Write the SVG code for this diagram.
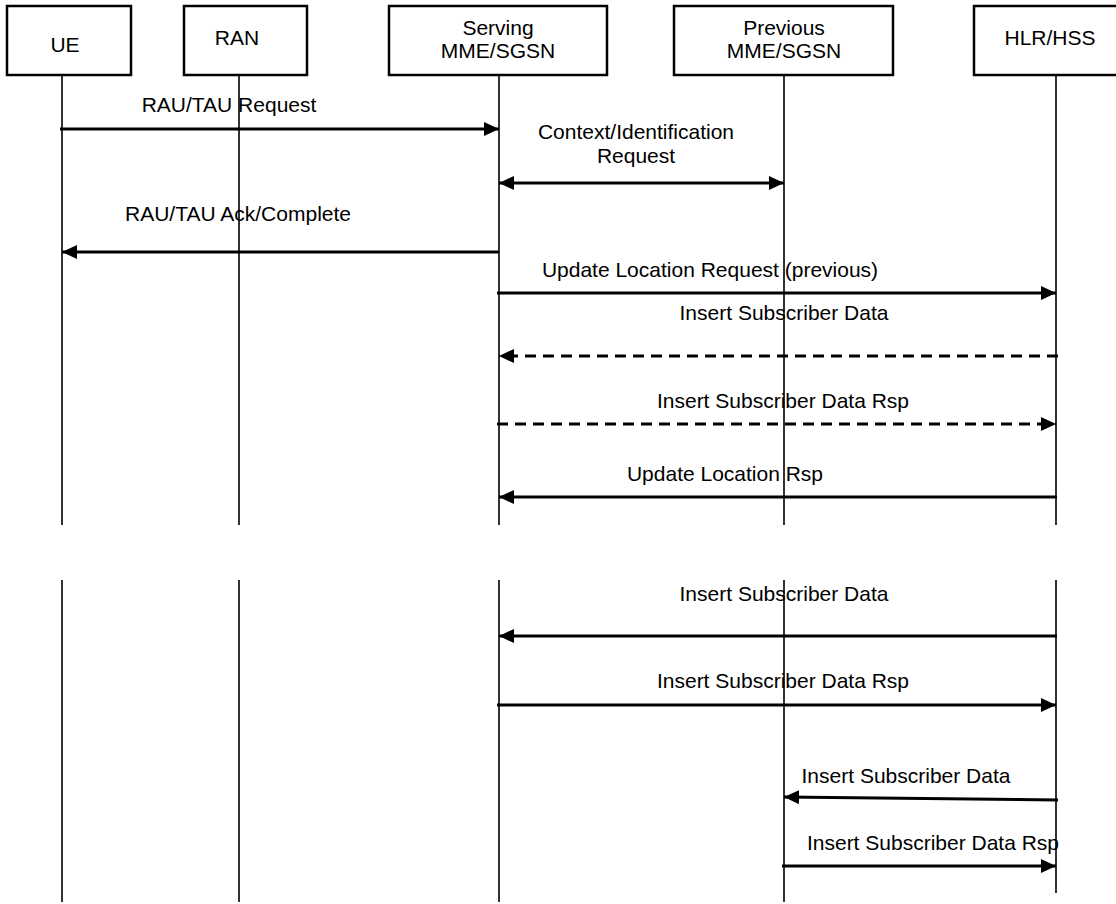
<svg xmlns="http://www.w3.org/2000/svg" width="1116" height="904" viewBox="0 0 1116 904">
<style>
text{font-family:"Liberation Sans",Arial,sans-serif;font-size:21px;fill:#000;text-anchor:middle}
.box{fill:#fff;stroke:#000;stroke-width:2.5}
.life{stroke:#000;stroke-width:1.6;fill:none}
.msg{stroke:#000;stroke-width:3;fill:none;marker-end:url(#ah)}
.dash{stroke-dasharray:11 7}
.both{marker-start:url(#ah)}
</style>
<defs>
<marker id="ah" markerUnits="userSpaceOnUse" markerWidth="16" markerHeight="16" refX="15" refY="7" orient="auto-start-reverse">
<path d="M0,0 L15,7 L0,14 z" fill="#000"/>
</marker>
</defs>
<rect width="1116" height="904" fill="#fff"/>
<g id="lifelines">
<path class="life" d="M62,75V525M62,580V902"/>
<path class="life" d="M239,75V525M239,580V902"/>
<path class="life" d="M499,75V525M499,580V902"/>
<path class="life" d="M784,75V525M784,580V902"/>
<path class="life" d="M1056,75V525M1056,580V893"/>
</g>
<g id="ue"><rect class="box" x="7" y="6" width="124" height="69"/><text x="65" y="52">UE</text></g>
<g id="ran"><rect class="box" x="184" y="6" width="123" height="69"/><text x="237" y="45">RAN</text></g>
<g id="serving"><rect class="box" x="389" y="6" width="218" height="69"/><text x="498" y="35">Serving</text><text x="498" y="58">MME/SGSN</text></g>
<g id="previous"><rect class="box" x="674" y="6" width="219" height="69"/><text x="784" y="35">Previous</text><text x="784" y="58">MME/SGSN</text></g>
<g id="hlr"><rect class="box" x="974" y="6" width="170" height="69"/><text x="1050" y="45">HLR/HSS</text></g>
<g id="connectors">
<line class="msg" x1="60" y1="129" x2="499" y2="129"/>
<line class="msg both" x1="499" y1="183" x2="784" y2="183"/>
<line class="msg" x1="499" y1="252" x2="62" y2="252"/>
<line class="msg" x1="497" y1="293" x2="1056" y2="293"/>
<line class="msg dash" x1="1058" y1="356" x2="499" y2="356"/>
<line class="msg dash" x1="497" y1="424" x2="1056" y2="424"/>
<line class="msg" x1="1057" y1="497" x2="499" y2="497"/>
<line class="msg" x1="1057" y1="636" x2="499" y2="636"/>
<line class="msg" x1="497" y1="705" x2="1056" y2="705"/>
<line class="msg" x1="1058" y1="800" x2="784" y2="797"/>
<line class="msg" x1="782" y1="866" x2="1056" y2="866"/>
</g>
<g id="labels">
<text x="229" y="112">RAU/TAU Request</text>
<text x="636" y="139">Context/Identification</text>
<text x="636" y="163">Request</text>
<text x="238" y="221">RAU/TAU Ack/Complete</text>
<text x="710" y="277">Update Location Request (previous)</text>
<text x="784" y="320">Insert Subscriber Data</text>
<text x="783" y="408">Insert Subscriber Data Rsp</text>
<text x="725" y="481">Update Location Rsp</text>
<text x="784" y="601">Insert Subscriber Data</text>
<text x="783" y="688">Insert Subscriber Data Rsp</text>
<text x="906" y="783">Insert Subscriber Data</text>
<text x="933" y="850">Insert Subscriber Data Rsp</text>
</g>
</svg>
